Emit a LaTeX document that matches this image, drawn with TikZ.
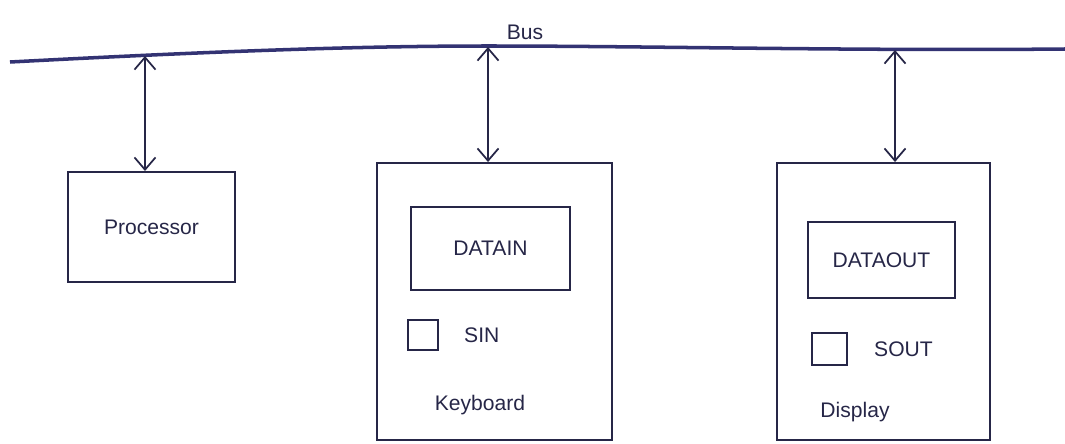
\documentclass[tikz,border=0pt]{standalone}
\usepackage{fontspec}
\setmainfont{Liberation Sans}
\usetikzlibrary{arrows.meta}
\definecolor{ink}{rgb}{0.15,0.15,0.28}
\definecolor{businkc}{rgb}{0.2,0.2,0.45}
\begin{document}
\begin{tikzpicture}[x=0.02cm,y=-0.02cm,
  box/.style={draw=ink,line width=1.1pt,inner sep=0pt},
  link/.style={draw=ink,line width=1pt,{Straight Barb[length=7pt,width=12pt]}-{Straight Barb[length=7pt,width=12pt]}},
  lbl/.style={text=ink,font=\large}]
\useasboundingbox (0,0) rectangle (1065,443);
% bus
\coordinate (busL) at (10,62);
\coordinate (busM) at (488,46);
\coordinate (busR) at (1065,49);
\draw[draw=businkc,line width=2pt] (busL) .. controls (200,52) and (350,46) .. (busM) .. controls (650,46) and (850,51) .. (busR);
\node[lbl] (buslabel) at (525,32) {Bus};
\coordinate (tp) at (145,56);
\coordinate (tk) at (488,47);
\coordinate (td) at (895,50);
% processor
\node[box,minimum width=167*0.02cm,minimum height=110*0.02cm] (proc) at (151.5,227) {};
\node[lbl] (proctext) at (proc.center) {Processor};
% keyboard
\node[box,minimum width=235*0.02cm,minimum height=277*0.02cm] (kbd) at (494.5,301.5) {};
\node[box,minimum width=159*0.02cm,minimum height=83*0.02cm,text=ink,font=\large] (datain) at (490.5,248.5) {DATAIN};
\node[box,minimum width=30*0.02cm,minimum height=30*0.02cm] (sin) at (423,335) {};
\node[lbl,anchor=west] (sintext) at (458,335) {SIN};
\node[lbl] (kbdtext) at (480,405) {Keyboard};
% display
\node[box,minimum width=213*0.02cm,minimum height=277*0.02cm] (disp) at (883.5,301.5) {};
\node[box,minimum width=147*0.02cm,minimum height=76*0.02cm,text=ink,font=\large] (dataout) at (881.5,260) {DATAOUT};
\node[box,minimum width=35*0.02cm,minimum height=32*0.02cm] (sout) at (829.5,349) {};
\node[lbl,anchor=west] (souttext) at (868,349) {SOUT};
\node[lbl] (disptext) at (855,412) {Display};
% links
\draw[link] (tp) -- (proc.north -| tp);
\draw[link] (tk) -- (kbd.north -| tk);
\draw[link] (td) -- (disp.north -| td);
\end{tikzpicture}
\end{document}
